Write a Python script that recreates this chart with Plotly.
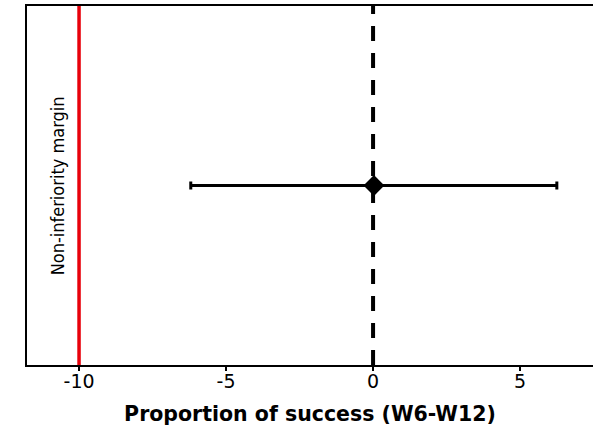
import plotly.graph_objects as go

# Estimate of the difference in proportion of success with its confidence interval
estimate = [0.03]
ci_lower = [-6.2]
ci_upper = [6.25]
row = [1]

margin_value = -10
reference_value = 0
tick_values = [-10, -5, 0, 5]
tick_labels = ["-10", "-5", "0", "5"]
x_title = "Proportion of success (W6-W12)"
margin_label = "Non-inferiority margin"

fig = go.Figure()

fig.add_trace(go.Scatter(
    x=estimate,
    y=row,
    mode="markers",
    marker=dict(symbol="diamond", size=16, color="black"),
    error_x=dict(
        type="data",
        symmetric=False,
        array=[u - e for u, e in zip(ci_upper, estimate)],
        arrayminus=[e - l for e, l in zip(estimate, ci_lower)],
        color="black",
        thickness=3,
        width=4,
    ),
    showlegend=False,
))

# Non-inferiority margin (red) and no-difference reference (dashed)
fig.add_shape(type="line", x0=margin_value, x1=margin_value, y0=0, y1=1,
              xref="x", yref="paper", line=dict(color="#e8000b", width=3.5),
              layer="below")
fig.add_shape(type="line", x0=reference_value, x1=reference_value, y0=0, y1=1,
              xref="x", yref="paper", line=dict(color="black", width=4, dash="15px,12px"),
              layer="below")

fig.add_annotation(
    x=-10.72, y=1, xref="x", yref="y",
    text=margin_label, textangle=-90, showarrow=False,
    font=dict(family="DejaVu Sans Condensed, sans-serif", size=18, color="black"),
)

fig.update_layout(
    width=593, height=431,
    margin=dict(l=27, r=0, t=6, b=66),
    plot_bgcolor="white", paper_bgcolor="white",
    xaxis=dict(
        range=[-11.77, 7.48],
        tickvals=tick_values, ticktext=tick_labels,
        ticks="outside", ticklen=4, tickwidth=1.5, tickcolor="black",
        ticklabelstandoff=-6,
        showline=True, linecolor="black", linewidth=2, mirror=True,
        showgrid=False, zeroline=False,
        tickfont=dict(family="DejaVu Sans, sans-serif", size=19, color="black"),
        title=dict(text="<b>" + x_title + "</b>", standoff=16,
                   font=dict(family="DejaVu Sans, sans-serif", size=20.5, color="black")),
    ),
    yaxis=dict(
        range=[0, 2],
        showticklabels=False, ticks="",
        showline=True, linecolor="black", linewidth=2,
        showgrid=False, zeroline=False,
    ),
)

fig.write_html("out.html")
